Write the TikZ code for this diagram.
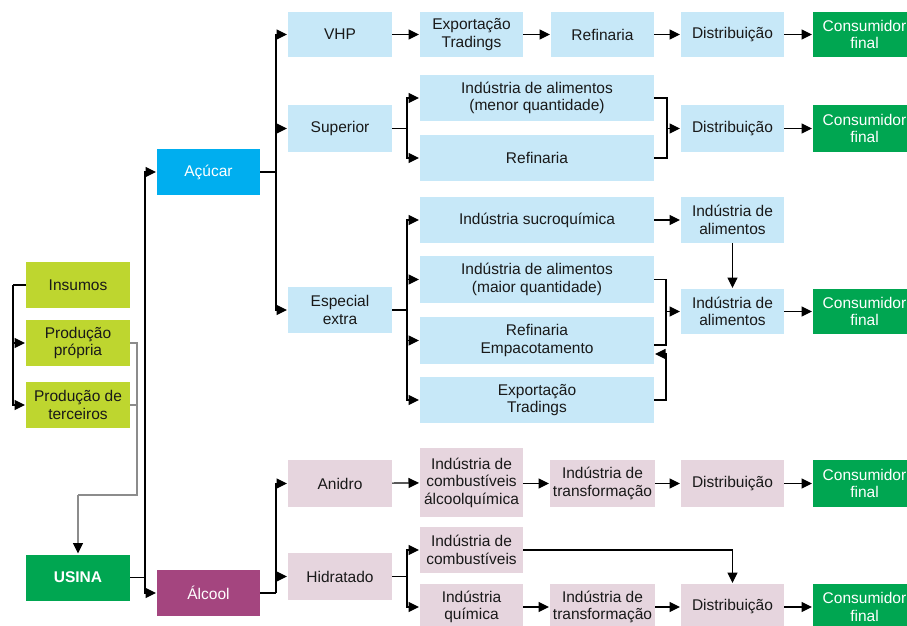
\documentclass[tikz,border=0pt]{standalone}
\usepackage{fontspec}
\setmainfont{Liberation Sans}
\usetikzlibrary{arrows.meta,calc}
\definecolor{lime}{HTML}{BED62F}
\definecolor{dgreen}{HTML}{00A651}
\definecolor{cyanb}{HTML}{00AEEF}
\definecolor{lblue}{HTML}{C7E8F8}
\definecolor{purp}{HTML}{A4457F}
\definecolor{lpink}{HTML}{E6D5DE}
\begin{document}
\begin{tikzpicture}[x=1pt,y=-1pt,
  box/.style={inner sep=0pt, outer sep=0pt, align=center, font=\fontsize{15.5}{17.5}\selectfont, text=black!90},
  sz/.style 2 args={minimum width=#1pt, minimum height=#2pt},
  lb/.style={box, fill=lblue},
  pk/.style={box, fill=lpink},
  lm/.style={box, fill=lime},
  dg/.style={box, fill=dgreen, text=white},
  line/.style={draw=black, line width=1.2pt},
  gline/.style={draw=black!45, line width=1.4pt},
  arr/.style={line, -{Triangle[length=10.5pt,width=10pt]}, shorten >=1pt},
  garr/.style={gline, -{Triangle[length=10.5pt,width=10pt,color=black,fill=black]}, shorten >=1pt}]
\useasboundingbox (0,0) rectangle (907,625);
\clip (0,0) rectangle (907,625);
% left column
\node[lm, sz={104}{46}] (ins) at (78,285) {Insumos};
\node[lm, sz={104}{46}] (prop) at (78,343) {Produção\\própria};
\node[lm, sz={104}{46}] (terc) at (78,405) {Produção de\\terceiros};
\node[dg, sz={104}{46}, font=\fontsize{15.5}{17.5}\selectfont\bfseries] (usina) at (78,577.5) {USINA};
\node[box, fill=cyanb, text=white, sz={103}{46}] (acucar) at (208.5,172) {Açúcar};
\node[box, fill=purp, text=white, sz={103}{46}] (alcool) at (208.5,593) {Álcool};
% top row
\node[lb, sz={104}{45}] (vhp) at (340,34.5) {VHP};
\node[lb, sz={103}{45}] (exp1) at (471.5,34.5) {Exportação\\Tradings};
\node[lb, sz={103}{45}] (ref1) at (602.5,34.5) {Refinaria};
\node[lb, sz={103}{45}] (dist1) at (732.5,34.5) {Distribuição};
\node[dg, sz={103}{45}] (cons1) at (864.5,34.5) {Consumidor\\final};
% superior
\node[lb, sz={104}{47}] (sup) at (340,128.5) {Superior};
\node[lb, sz={234}{46}] (alim1) at (537,98) {Indústria de alimentos\\(menor quantidade)};
\node[lb, sz={234}{46}] (ref2) at (537,158) {Refinaria};
\node[lb, sz={103}{47}] (dist2) at (732.5,128.5) {Distribuição};
\node[dg, sz={103}{47}] (cons2) at (864.5,128.5) {Consumidor\\final};
% especial extra
\node[lb, sz={104}{46}] (esp) at (340,310) {Especial\\extra};
\node[lb, sz={234}{46}] (sucro) at (537,220) {Indústria sucroquímica};
\node[lb, sz={234}{47}] (alim2) at (537,279.5) {Indústria de alimentos\\(maior quantidade)};
\node[lb, sz={234}{47}] (refemp) at (537,340.5) {Refinaria\\Empacotamento};
\node[lb, sz={234}{46}] (exp2) at (537,400) {Exportação\\Tradings};
\node[lb, sz={103}{46}] (ia1) at (732.5,220) {Indústria de\\alimentos};
\node[lb, sz={103}{45}] (ia2) at (732.5,311.5) {Indústria de\\alimentos};
\node[dg, sz={103}{45}] (cons3) at (864.5,311.5) {Consumidor\\final};
% alcool
\node[pk, sz={104}{47}] (anidro) at (340,483.5) {Anidro};
\node[pk, sz={103}{69}] (icomb1) at (471.5,482.5) {Indústria de\\combustíveis\\álcoolquímica};
\node[pk, sz={105}{47}] (itr1) at (602.5,483.5) {Indústria de\\transformação};
\node[pk, sz={103}{47}] (dist4) at (732.5,483.5) {Distribuição};
\node[dg, sz={103}{47}] (cons4) at (864.5,483.5) {Consumidor\\final};
\node[pk, sz={104}{47}] (hidr) at (340,576.5) {Hidratado};
\node[pk, sz={103}{46}] (icomb2) at (471.5,550) {Indústria de\\combustíveis};
\node[pk, sz={103}{46}] (iquim) at (471.5,607) {Indústria\\química};
\node[pk, sz={105}{46}] (itr2) at (602.5,607) {Indústria de\\transformação};
\node[pk, sz={103}{46}] (dist5) at (732.5,607) {Distribuição};
\node[dg, sz={103}{46}] (cons5) at (864.5,607) {Consumidor\\final};
% coordinates
\coordinate (insL) at (13,285);
\coordinate (gA) at (137,495);
\coordinate (gB) at (78,495);
\coordinate (uj) at (145,577.5);
\coordinate (aj) at (276,172);
\coordinate (sj) at (407,128.5);
\coordinate (bj) at (667,128.5);
\coordinate (ej) at (407,310);
\coordinate (bj2) at (666,311.5);
\coordinate (lj) at (276,593);
\coordinate (hj) at (407,576.5);
% left connectors
\draw[line] (ins.west) -- (insL);
\draw[arr] (insL) |- (prop.west);
\draw[arr] (insL) |- (terc.west);
\draw[gline] (prop.east) -| (gA);
\draw[gline] (terc.east) -| (gA) -- (gB);
\draw[garr] (gB) -- (usina.north);
\draw[line] (usina.east) -- (uj);
\draw[arr] (uj) |- (acucar.west);
\draw[arr] (uj) |- (alcool.west);
% acucar
\draw[line] (acucar.east) -- (aj);
\draw[arr] (aj) |- (vhp.west);
\draw[arr] (aj) |- (sup.west);
\draw[arr] (aj) |- (esp.west);
\draw[arr] (vhp) -- (exp1);
\draw[arr] (exp1) -- (ref1);
\draw[arr] (ref1) -- (dist1);
\draw[arr] (dist1) -- (cons1);
\draw[line] (sup.east) -- (sj);
\draw[arr] (sj) |- (alim1.west);
\draw[arr] (sj) |- (ref2.west);
\draw[line] (alim1.east) -| (bj);
\draw[line] (ref2.east) -| (bj);
\draw[arr] (bj) -- (dist2.west);
\draw[arr] (dist2) -- (cons2);
\draw[line] (esp.east) -- (ej);
\draw[arr] (ej) |- (sucro.west);
\draw[arr] (ej) |- (alim2.west);
\draw[arr] (ej) |- (refemp.west);
\draw[arr] (ej) |- (exp2.west);
\draw[arr] (sucro) -- (ia1);
\draw[arr] (ia1) -- (ia2);
\draw[line] (alim2.east) -| (bj2);
\draw[line] ($(refemp.east)+(0,4.5)$) -| (bj2);
\draw[arr] (bj2) -- (ia2.west);
\draw[arr] (exp2.east) -- ++(12,0) |- ($(refemp.east)+(0,13.5)$);
\draw[arr] (ia2) -- (cons3);
% alcool
\draw[line] (alcool.east) -- (lj);
\draw[arr] (lj) |- (anidro.west);
\draw[arr] (lj) |- (hidr.west);
\draw[arr] (anidro) -- (icomb1);
\draw[arr] (icomb1.east |- anidro) -- (itr1);
\draw[arr] (itr1) -- (dist4);
\draw[arr] (dist4) -- (cons4);
\draw[line] (hidr.east) -- (hj);
\draw[arr] (hj) |- (icomb2.west);
\draw[arr] (hj) |- (iquim.west);
\draw[arr] (icomb2.east) -| (dist5.north);
\draw[arr] (iquim) -- (itr2);
\draw[arr] (itr2) -- (dist5);
\draw[arr] (dist5) -- (cons5);
\end{tikzpicture}
\end{document}
